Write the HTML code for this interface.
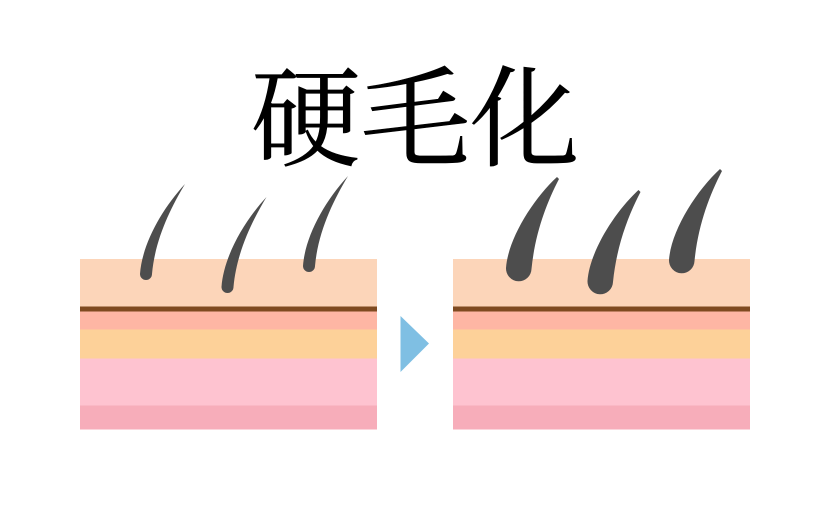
<!DOCTYPE html>
<html>
<head>
<meta charset="utf-8">
<style>
html,body{margin:0;padding:0;background:#fff;width:830px;height:510px;overflow:hidden}
svg{display:block}
text{font-family:"Liberation Serif","Noto Serif CJK SC",serif;font-size:109.5px;fill:#000;stroke:#000;stroke-width:0.7px}
</style>
</head>
<body>
<svg width="830" height="510" viewBox="0 0 830 510" xmlns="http://www.w3.org/2000/svg">
<rect width="830" height="510" fill="#fff"/>
<text x="251" y="157.5">硬毛化</text>
<defs>
<g id="skin">
<rect x="0" y="259" width="297" height="48" fill="#fcd5b9"/>
<rect x="0" y="311" width="297" height="19" fill="#feb6a4"/>
<rect x="0" y="306.5" width="297" height="5" fill="#7f4a20"/>
<rect x="0" y="329.5" width="297" height="29" fill="#fdd199"/>
<rect x="0" y="358.5" width="297" height="47" fill="#fec3d0"/>
<rect x="0" y="405.5" width="297" height="24" fill="#f7adba"/>
</g>
<path id="thin" d="M-6,-1 C-4,-30 15,-65 39,-91 C24,-66 9,-35 6,-1 A6,6 0 0 1 -6,-1 Z" fill="#4d4d4d"/>
<path id="thick" d="M-13,-1 C-11,-30 14,-70 38,-92 L40,-90 C27,-65 16,-35 12.5,0 A12.7,12.7 0 0 1 -13,-1 Z" fill="#4d4d4d"/>
</defs>
<use href="#skin" x="80"/>
<use href="#skin" x="453"/>
<use href="#thin" x="146" y="275"/>
<use href="#thin" x="227.5" y="288"/>
<use href="#thin" x="309" y="267"/>
<use href="#thick" x="519" y="269"/>
<use href="#thick" x="600.5" y="282"/>
<use href="#thick" x="682" y="261"/>
<polygon points="400.5,316 429,343.5 400.5,372" fill="#7fbfe3"/>
</svg>
</body>
</html>
